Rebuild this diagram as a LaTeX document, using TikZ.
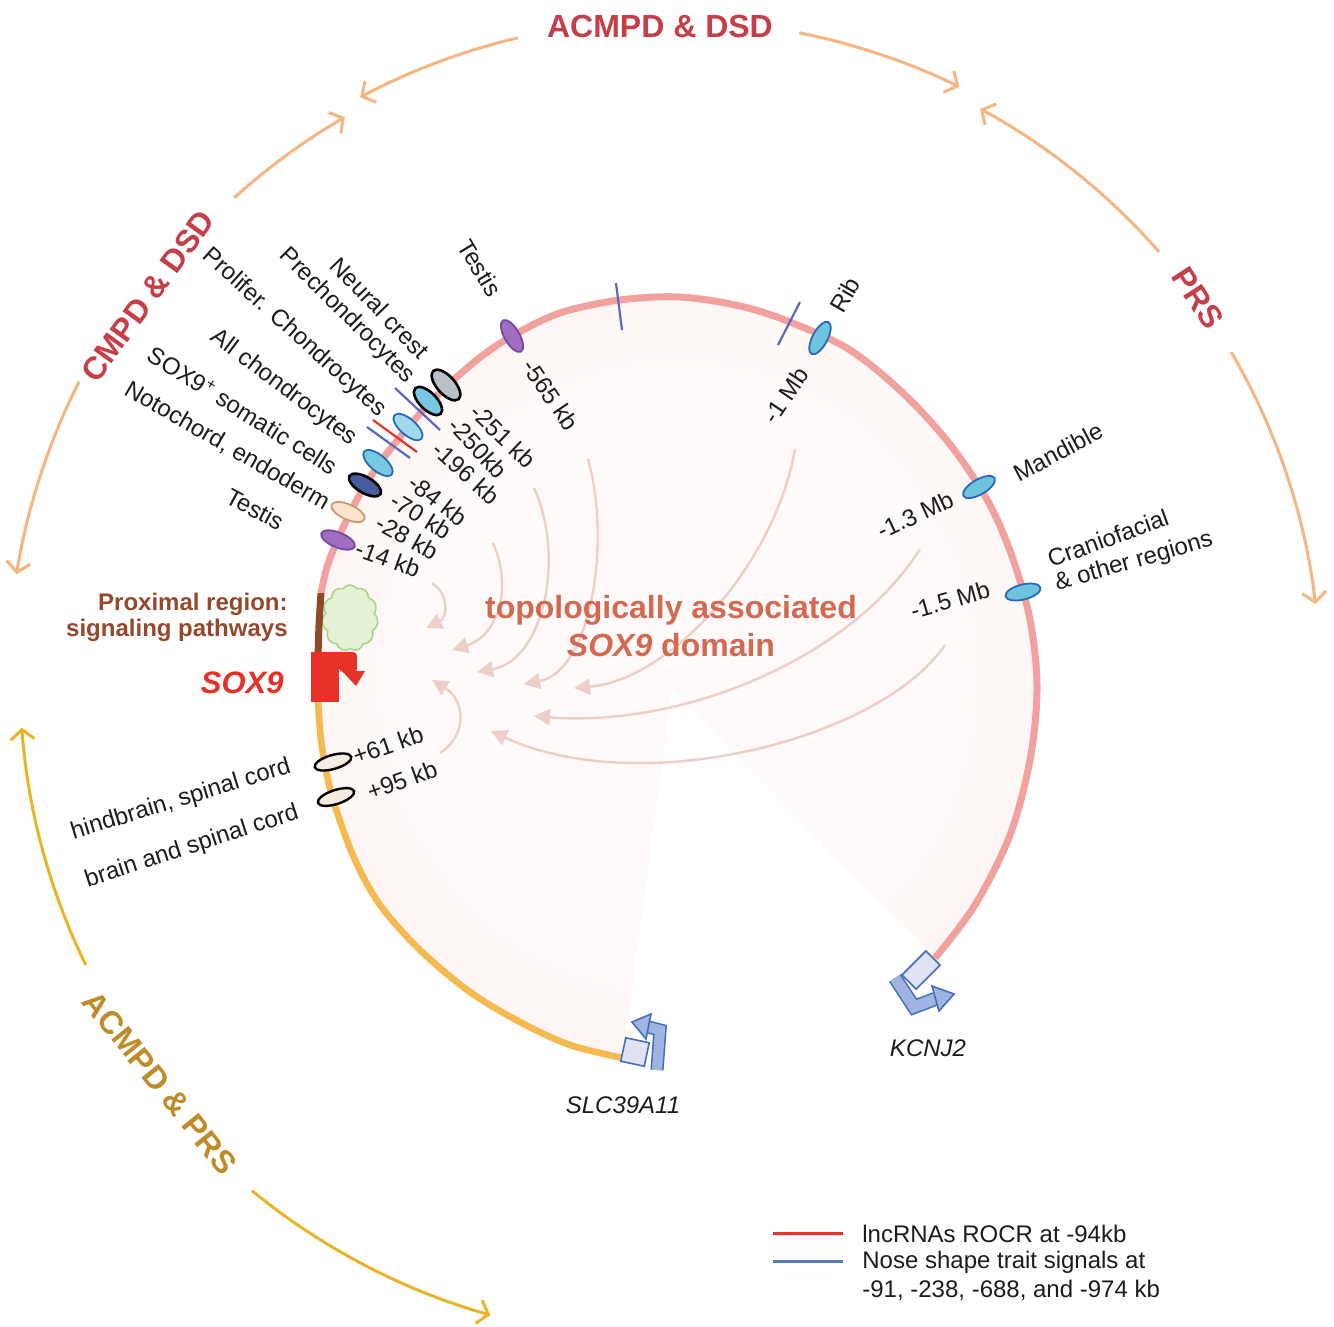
\documentclass[tikz,border=0pt]{standalone}
\usepackage{fontspec}
\setmainfont{Liberation Sans}
\usetikzlibrary{arrows.meta,shapes.geometric,shapes.symbols,calc}
\definecolor{pinkarc}{RGB}{242,162,158}
\definecolor{orarc}{RGB}{245,185,80}
\definecolor{brownbar}{RGB}{140,75,40}
\definecolor{padin}{RGB}{254,250,249}
\definecolor{padout}{RGB}{249,226,222}
\definecolor{intarrow}{RGB}{238,206,199}
\definecolor{dis}{RGB}{200,62,72}
\definecolor{disarrow}{RGB}{246,182,130}
\definecolor{gold}{RGB}{190,140,40}
\definecolor{goldarrow}{RGB}{232,180,40}
\definecolor{titlec}{RGB}{210,105,80}
\definecolor{proxc}{RGB}{150,72,42}
\definecolor{soxred}{RGB}{230,48,40}
\definecolor{tickblue}{RGB}{92,104,190}
\definecolor{tickred}{RGB}{232,50,40}
\definecolor{legblue}{RGB}{85,125,190}
\definecolor{genefill}{RGB}{222,226,242}
\definecolor{genearrow}{RGB}{160,180,225}
\definecolor{geneline}{RGB}{70,110,185}
\definecolor{cloudfill}{RGB}{228,241,212}
\definecolor{clouddraw}{RGB}{170,212,140}
\definecolor{egray}{RGB}{185,192,200}
\definecolor{eblue}{RGB}{120,200,226}
\definecolor{eblueline}{RGB}{40,105,185}
\definecolor{edark}{RGB}{72,92,160}
\definecolor{epeach}{RGB}{251,228,205}
\definecolor{epeachline}{RGB}{212,150,110}
\definecolor{epurple}{RGB}{160,110,192}
\definecolor{epurpleline}{RGB}{118,72,160}
\definecolor{ecream}{RGB}{244,236,222}
\definecolor{eteal}{RGB}{110,196,220}
\definecolor{txt}{RGB}{28,28,28}
\pgfdeclareradialshading{tadshade}{\pgfpoint{0bp}{0bp}}{color(0bp)=(padin); color(20bp)=(padin); color(50bp)=(padout); color(75bp)=(padout)}
\begin{document}
\begin{tikzpicture}[x=0.5pt,y=-0.5pt,
  enh/.style={ellipse, inner sep=0pt, minimum width=18pt, minimum height=7.5pt, line width=0.9pt},
  lab/.style={font=\fontsize{12}{14}\selectfont, text=txt, inner sep=0pt},
  dlab/.style={font=\bfseries\fontsize{16}{19}\selectfont, inner sep=0pt},
  intarr/.style={draw=intarrow, line width=1.2pt, -{Triangle[length=8pt,width=8pt]}},
  disarr/.style={line width=1.5pt, -{Straight Barb[length=5pt,width=12pt]}},
  ticksty/.style={line width=1.1pt}]
\useasboundingbox (0,0) rectangle (1334,1327);
\fill[white] (0,0) rectangle (1334,1327);

% domain fill
\shade[shading=tadshade] (672,690) -- plot[smooth,tension=0.55] coordinates {(623,1058) (570,1045) (520,1022) (470,992) (420,950) (380,905) (355,860) (338,815) (328,780) (321,740) (318,700) (318,660) (320,620) (322,595) (327,567) (337,541) (350,513) (364,487) (382,460) (405,431) (426,407) (447,386) (478,359) (512,336) (560,313) (620,300) (680,297) (740,306) (790,322) (850,350) (905,395) (952,447) (990,505) (1015,565) (1031,625) (1037,690) (1030,760) (1010,835) (975,905) (935,958)} -- cycle;

% interior arrows
\coordinate (ia1) at (432,583); \coordinate (ib1) at (426,628);
\coordinate (ia2) at (493,543); \coordinate (ib2) at (452,650);
\coordinate (ia3) at (534,488); \coordinate (ib3) at (477,672);
\coordinate (ia4) at (588,459); \coordinate (ib4) at (524,684);
\coordinate (ia5) at (795,449); \coordinate (ib5) at (574,688);
\coordinate (ia6) at (920,549); \coordinate (ib6) at (534,716);
\coordinate (ia7) at (945,645); \coordinate (ib7) at (491,731);
\coordinate (ia8) at (440,753); \coordinate (ib8) at (432,680);
\draw[intarr] (ia1) .. controls (450,595) and (447,618) .. (ib1);
\draw[intarr] (ia2) .. controls (512,585) and (500,635) .. (ib2);
\draw[intarr] (ia3) .. controls (565,555) and (545,660) .. (ib3);
\draw[intarr] (ia4) .. controls (612,545) and (590,672) .. (ib4);
\draw[intarr] (ia5) .. controls (775,565) and (670,680) .. (ib5);
\draw[intarr] (ia6) .. controls (850,660) and (680,728) .. (ib6);
\draw[intarr] (ia7) .. controls (880,740) and (640,800) .. (ib7);
\draw[intarr] (ia8) .. controls (468,735) and (465,700) .. (ib8);

% arcs
\draw[orarc, line width=3.3pt] plot[smooth,tension=0.55] coordinates {(318,700) (321,740) (328,780) (338,815) (355,860) (380,905) (420,950) (470,992) (520,1022) (570,1045) (623,1058)};
\draw[pinkarc, line width=3.5pt] plot[smooth,tension=0.55] coordinates {(321,593) (327,567) (337,541) (350,513) (364,487) (382,460) (405,431) (426,407) (447,386) (478,359) (512,336) (560,313) (620,300) (680,297) (740,306) (790,322) (850,350) (905,395) (952,447) (990,505) (1015,565) (1031,625) (1037,690) (1030,760) (1010,835) (975,905) (935,958)};

% cloud and proximal bar
\node[cloud, cloud puffs=11, cloud puff arc=110, aspect=0.85, draw=clouddraw, fill=cloudfill, minimum width=28pt, minimum height=33pt, inner sep=0pt, line width=0.8pt] (cloud) at (350,618) {};
\draw[brownbar, line width=3.5pt] plot[smooth] coordinates {(321,593) (319,625) (318,658)};

% SOX9 gene glyph
\fill[soxred] (311,652) rectangle (339,702);
\fill[soxred, rounded corners=2pt] (311,652) -- (357,652) -- (357,673) -- (341,673) -- (341,668) -- (311,668) -- cycle;
\fill[soxred] (342,671) -- (365,671) -- (356,686) -- cycle;

% ticks
\draw[ticksty, tickblue] (616,283) -- (622,330);
\draw[ticksty, tickblue] (778,345) -- (800,302);
\draw[ticksty, tickblue] (395,388) -- (440,430);
\draw[ticksty, tickred] (373,420) -- (417,452);
\draw[ticksty, tickblue] (367,427) -- (410,458);

% enhancer ellipses
\node[enh, fill=epurple, draw=epurpleline, rotate=-60] (e565) at (512,336) {};
\node[enh, fill=egray, draw=black, line width=1.3pt, minimum width=19pt, minimum height=9pt, rotate=-48] (enc) at (446,385) {};
\node[enh, fill=eblue, draw=black, line width=1.3pt, minimum height=8.5pt, rotate=-45] (epre) at (428,401) {};
\node[enh, fill=eblue!70!white, draw=eblueline, minimum height=8pt, rotate=-41] (eprol) at (408,427) {};
\node[enh, fill=eblue, draw=eblueline, minimum height=8pt, rotate=-40] (eall) at (378,463) {};
\node[enh, fill=edark, draw=black, line width=1.3pt, minimum height=8pt, rotate=-30] (esox) at (365,485) {};
\node[enh, fill=epeach, draw=epeachline, rotate=-24] (enot) at (348,512) {};
\node[enh, fill=epurple, draw=epurpleline, rotate=-22] (et14) at (338,540) {};
\node[enh, fill=eteal, draw=eblueline, rotate=62] (erib) at (820,338) {};
\node[enh, fill=eteal, draw=eblueline, rotate=30] (eman) at (979,487) {};
\node[enh, fill=eteal, draw=eblueline, rotate=14] (ecra) at (1023,592) {};
\node[enh, fill=ecream, draw=black, line width=1.2pt, minimum width=19pt, minimum height=7pt, rotate=16] (e61) at (333,762) {};
\node[enh, fill=ecream, draw=black, line width=1.2pt, minimum width=19pt, minimum height=7pt, rotate=18] (e95) at (336,797) {};

% gene icons
\draw[draw=geneline, line width=0.8pt, double=genearrow, double distance=5pt] (657,1070) -- (660,1030) -- (648,1027);
\filldraw[fill=genearrow, draw=geneline, line width=0.8pt] (651,1014) -- (632,1022) -- (646,1039) -- cycle;
\node[draw=geneline, fill=genefill, line width=0.8pt, minimum size=12pt, inner sep=0pt, rotate=-12] (slcbox) at (635,1052) {};
\draw[draw=geneline, line width=0.8pt, double=genearrow, double distance=5.5pt] (895,978) -- (914,1007) -- (935,999);
\filldraw[fill=genearrow, draw=geneline, line width=0.8pt] (932,986) -- (954,994) -- (939,1011) -- cycle;
\node[draw=geneline, fill=genefill, line width=0.8pt, minimum width=17pt, minimum height=10pt, inner sep=0pt, rotate=45] (kbox) at (921,970) {};
\node[lab, font=\itshape\fontsize{12}{14}\selectfont] (slc) at (623,1105) {SLC39A11};
\node[lab, font=\itshape\fontsize{12}{14}\selectfont] (kcn) at (928,1048) {KCNJ2};

% labels outer left
\node[lab, rotate=-59] (lt1) at (480,268) {Testis};
\node[lab, rotate=-46] (lnc) at (380,308) {Neural crest};
\node[lab, rotate=-45] (lpre) at (347,316) {Prechondrocytes};
\node[lab, rotate=-42] (lprol) at (294,333) {Prolifer. Chondrocytes};
\node[lab, rotate=-37] (lall) at (284,388) {All chondrocytes};
\node[lab, rotate=-32] (lsox) at (243,410) {SOX9\textsuperscript{+} somatic cells};
\node[lab, rotate=-30] (lnot) at (227,446) {Notochord, endoderm};
\node[lab, rotate=-28] (lt2) at (255,509) {Testis};
% labels inner
\node[lab, rotate=-56] (k565) at (551,395) {-565 kb};
\node[lab, rotate=-44] (k251) at (503,436) {-251 kb};
\node[lab, rotate=-47] (k250) at (478,448) {-250kb};
\node[lab, rotate=-42] (k196) at (466,473) {-196 kb};
\node[lab, rotate=-38] (k84) at (438,500) {-84 kb};
\node[lab, rotate=-32] (k70) at (421,516) {-70 kb};
\node[lab, rotate=-29] (k28) at (407,537) {-28 kb};
\node[lab, rotate=-20] (k14) at (388,559) {-14 kb};
% right labels
\node[lab, rotate=60] (lrib) at (845,295) {Rib};
\node[lab, rotate=56] (k1mb) at (786,395) {-1 Mb};
\node[lab, rotate=28] (lman) at (1058,452) {Mandible};
\node[lab, rotate=25] (k13) at (915,515) {-1.3 Mb};
\node[lab, rotate=20] (lcra) at (1108,538) {Craniofacial};
\node[lab, rotate=16] (loth) at (1134,562) {\& other regions};
\node[lab, rotate=16] (k15) at (950,600) {-1.5 Mb};
% lower left labels
\node[lab, rotate=19] (k61) at (388,745) {+61 kb};
\node[lab, rotate=20] (k95) at (402,780) {+95 kb};
\node[lab, rotate=17] (lhind) at (181,800) {hindbrain, spinal cord};
\node[lab, rotate=18] (lbrain) at (192,847) {brain and spinal cord};

% central texts
\node[font=\bfseries\fontsize{16}{19}\selectfont, text=titlec, align=center, inner sep=0pt] (tad) at (671,626) {topologically associated\\\textit{SOX9} domain};
\node[font=\bfseries\fontsize{12}{13}\selectfont, text=proxc, align=right, anchor=east, inner sep=0pt] (prox) at (288,617) {Proximal region:\\signaling pathways};
\node[font=\bfseries\itshape\fontsize{15.5}{18}\selectfont, text=soxred, anchor=east, inner sep=0pt] (sox) at (284,683) {SOX9};

% disease labels
\node[dlab, text=dis] (dtop) at (660,26) {ACMPD \& DSD};
\node[dlab, text=dis, rotate=54] (dleft) at (148,296) {CMPD \& DSD};
\node[dlab, text=dis, rotate=-57] (dright) at (1198,298) {PRS};
\node[dlab, text=gold, rotate=-51] (dbot) at (160,1083) {ACMPD \& PRS};

% disease arrows along a large circle
\coordinate (cc) at (670,680);
\coordinate (a1s) at ($(cc)+(-103.3:660)$);
\coordinate (a2s) at ($(cc)+(-132.1:650)$);
\coordinate (a3s) at ($(cc)+(-78.7:660)$);
\coordinate (a4s) at ($(cc)+(-41.2:650)$);
\coordinate (a5s) at ($(cc)+(206.8:662)$);
\coordinate (a6s) at ($(cc)+(-30.3:650)$);
\coordinate (a7s) at ($(cc)+(154.0:650)$);
\coordinate (a8s) at ($(cc)+(129.3:660)$);
\draw[disarr, disarrow] (a1s) arc[start angle=-103.3, end angle=-118, radius=660];
\draw[disarr, disarrow] (a2s) arc[start angle=-132.1, end angle=-120, radius=650];
\draw[disarr, disarrow] (a3s) arc[start angle=-78.7, end angle=-64, radius=660];
\draw[disarr, disarrow] (a4s) arc[start angle=-41.2, end angle=-61.5, radius=650];
\draw[disarr, disarrow] (a5s) arc[start angle=206.8, end angle=189.2, radius=662];
\draw[disarr, disarrow] (a6s) arc[start angle=-30.3, end angle=-6.7, radius=650];
\draw[disarr, goldarrow] (a7s) arc[start angle=154.0, end angle=175.8, radius=650];
\draw[disarr, goldarrow] (a8s) arc[start angle=129.3, end angle=105.8, radius=660];

% legend
\coordinate (lr1) at (773,1233); \coordinate (lr2) at (843,1233);
\coordinate (lb1) at (773,1261); \coordinate (lb2) at (843,1261);
\draw[tickred, line width=1.5pt] (lr1) -- (lr2);
\draw[legblue, line width=1.5pt] (lb1) -- (lb2);
\node[lab, anchor=west] (leg1) at (862,1234) {lncRNAs ROCR at -94kb};
\node[lab, anchor=west] (leg2) at (862,1262) {Nose shape trait signals at};
\node[lab, anchor=west] (leg3) at (862,1290) {-91, -238, -688, and -974 kb};
\end{tikzpicture}
\end{document}
